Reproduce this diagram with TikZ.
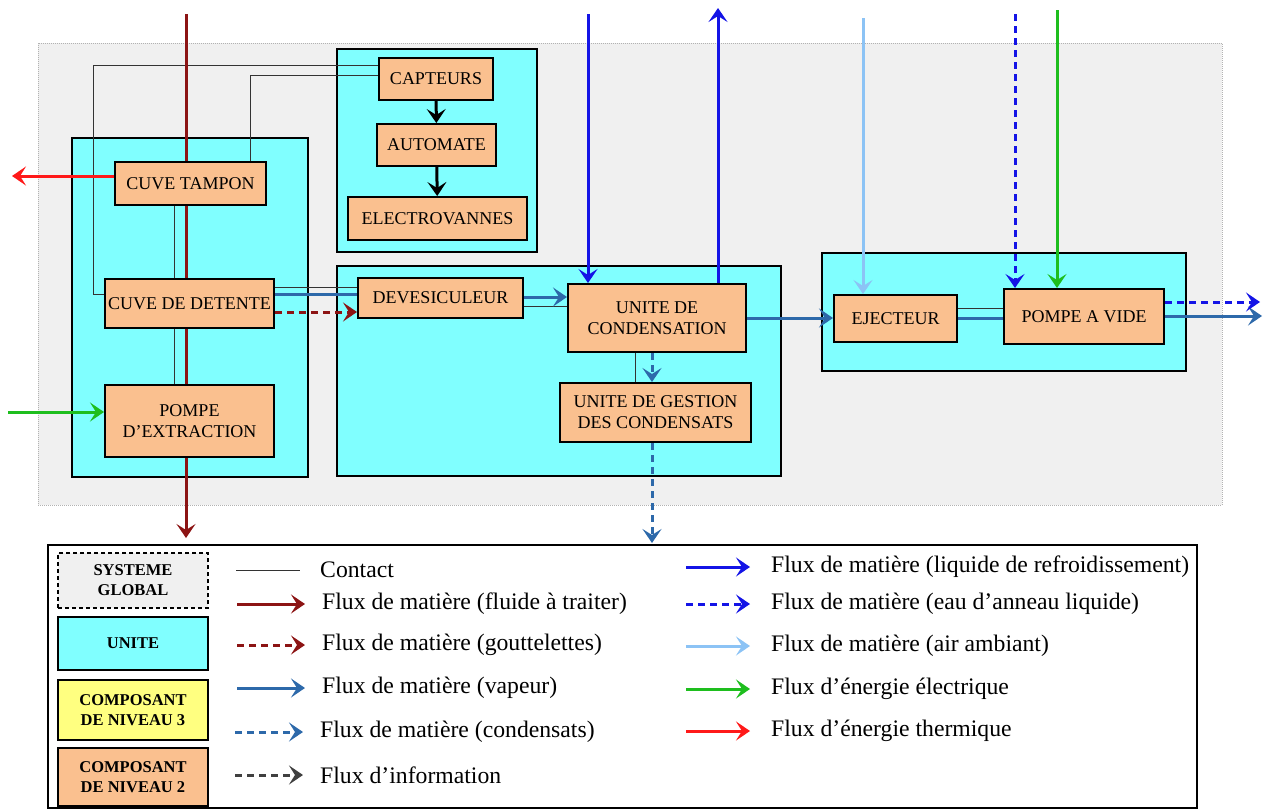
\documentclass[tikz,border=0pt]{standalone}
\usepackage{fontspec}
\setmainfont{Liberation Serif}
\usetikzlibrary{arrows.meta}
\definecolor{unitcyan}{RGB}{128,255,255}
\definecolor{comporange}{RGB}{250,192,143}
\definecolor{compyellow}{RGB}{255,255,128}
\definecolor{globgray}{RGB}{240,240,240}
\definecolor{fluidred}{RGB}{140,20,20}
\definecolor{thermred}{RGB}{255,25,25}
\definecolor{elecgreen}{RGB}{30,190,30}
\definecolor{coolblue}{RGB}{20,20,230}
\definecolor{vapblue}{RGB}{45,105,170}
\definecolor{airblue}{RGB}{140,195,245}
\definecolor{infogray}{RGB}{64,64,64}
\begin{document}
\begin{tikzpicture}[x=1pt,y=-1pt,>={Stealth[length=14pt,width=19pt,inset=6pt]},
  every node/.style={font=\fontsize{18}{21}\selectfont},
  sysbox/.style={draw=gray!60,dash pattern=on 1pt off 1pt,line width=1pt,fill=globgray},
  unitbox/.style={draw,line width=2pt,fill=unitcyan},
  compbox/.style={draw,line width=2pt,fill=comporange,align=center,inner sep=0pt},
  contact/.style={draw=black!80,line width=1pt},
  flow/.style={line width=3pt},
  fluide/.style={flow,fluidred},
  goutte/.style={flow,fluidred,dash pattern=on 7pt off 5pt},
  vapeur/.style={flow,vapblue},
  condens/.style={flow,vapblue,dash pattern=on 7pt off 5pt},
  infoflux/.style={flow,infogray,dash pattern=on 7pt off 5pt},
  refroid/.style={flow,coolblue},
  anneau/.style={flow,coolblue,dash pattern=on 7pt off 5pt},
  airflux/.style={flow,airblue},
  elec/.style={flow,elecgreen},
  thermique/.style={flow,thermred},
  legtext/.style={anchor=west,inner sep=0pt,font=\fontsize{23.7}{26}\selectfont},
  legbox/.style={line width=2pt,align=center,inner sep=0pt,minimum width=150,
    font=\fontsize{16.5}{20}\selectfont\bfseries}]
  \useasboundingbox (0,0) rectangle (1266,809);
  % systeme global et unites
  \node[sysbox,minimum width=1184,minimum height=462] (sys) at (630,274) {};
  \node[unitbox,minimum width=236,minimum height=339] (u1) at (190,307.5) {};
  \node[unitbox,minimum width=200,minimum height=203] (u2) at (437,150.5) {};
  \node[unitbox,minimum width=444,minimum height=210] (u3) at (559,371) {};
  \node[unitbox,minimum width=364,minimum height=118] (u4) at (1004,312) {};
  % composants
  \node[compbox,minimum width=151,minimum height=43] (tampon) at (190.5,183.5) {CUVE TAMPON};
  \node[compbox,minimum width=169,minimum height=49] (detente) at (189.5,303.5) {CUVE DE DETENTE};
  \node[compbox,minimum width=169,minimum height=72] (pompe) at (189.5,421) {POMPE\\D'EXTRACTION};
  \node[compbox,minimum width=114,minimum height=42] (capteurs) at (436,79) {CAPTEURS};
  \node[compbox,minimum width=119,minimum height=42] (automate) at (436.5,145) {AUTOMATE};
  \node[compbox,minimum width=179,minimum height=43] (electro) at (437.5,218.5) {ELECTROVANNES};
  \node[compbox,minimum width=165,minimum height=40] (devesic) at (440.5,298) {DEVESICULEUR};
  \node[compbox,minimum width=178,minimum height=68] (conden) at (657,318) {UNITE DE\\CONDENSATION};
  \node[compbox,minimum width=191,minimum height=59] (gestion) at (655.5,412.5) {UNITE DE GESTION\\DES CONDENSATS};
  \node[compbox,minimum width=123,minimum height=47] (ejecteur) at (895.5,318.5) {EJECTEUR};
  \node[compbox,minimum width=160,minimum height=55] (pompev) at (1084,316.5) {POMPE A VIDE};
  % extremites libres
  \coordinate (fluideIn) at (186,14);
  \coordinate (fluideOut) at (186,538);
  \coordinate (thermOut) at (12,176);
  \coordinate (elecIn) at (8,412);
  \coordinate (refIn) at (588,14);
  \coordinate (refOut) at (718,8);
  \coordinate (condOut) at (652,543);
  \coordinate (airIn) at (863,18);
  \coordinate (anneauIn) at (1015,14);
  \coordinate (elecIn2) at (1057,10);
  \coordinate (vapOut) at (1262,316);
  \coordinate (anneauOut) at (1260,302);
  % contacts
  \draw[contact] (capteurs.west |- 0,65) -| (93,294) -- (detente.west |- 0,294);
  \draw[contact] (capteurs.west |- 0,75) -| (tampon.north -| 250,0);
  \draw[contact] (tampon.south -| 174,0) -- (detente.north -| 174,0);
  \draw[contact] (detente.south -| 174,0) -- (pompe.north -| 174,0);
  \draw[contact] (detente.east |- 0,287) -- (devesic.west |- 0,287);
  \draw[contact] (devesic.east |- 0,306) -- (conden.west |- 0,306);
  \draw[contact] (conden.south -| 635,0) -- (gestion.north -| 635,0);
  \draw[contact] (ejecteur.east |- 0,308) -- (pompev.west |- 0,308);
  % flux
  \draw[fluide] (fluideIn) -- (tampon.north -| fluideIn);
  \draw[fluide] (tampon.south -| fluideIn) -- (detente.north -| fluideIn);
  \draw[fluide] (detente.south -| fluideIn) -- (pompe.north -| fluideIn);
  \draw[fluide,->] (pompe.south -| fluideIn) -- (fluideOut);
  \draw[thermique,->] (tampon.west |- thermOut) -- (thermOut);
  \draw[elec,->] (elecIn) -- (pompe.west |- elecIn);
  \draw[flow,->] (capteurs) -- (automate);
  \draw[flow,->] (automate) -- (electro);
  \draw[vapeur] (detente.east |- 0,294) -- (devesic.west |- 0,294);
  \draw[goutte,->] (detente.east |- 0,312) -- (devesic.west |- 0,312);
  \draw[vapeur,->] (devesic.east |- 0,297) -- (conden.west |- 0,297);
  \draw[refroid,->] (refIn) -- (conden.north -| refIn);
  \draw[refroid,->] (conden.north -| refOut) -- (refOut);
  \draw[condens,->] (conden.south -| condOut) -- (gestion.north -| condOut);
  \draw[condens,->] (gestion.south -| condOut) -- (condOut);
  \draw[vapeur,->] (conden.east |- 0,318) -- (ejecteur.west |- 0,318);
  \draw[airflux,->] (airIn) -- (ejecteur.north -| airIn);
  \draw[vapeur] (ejecteur.east |- 0,318) -- (pompev.west |- 0,318);
  \draw[anneau,->] (anneauIn) -- (pompev.north -| anneauIn);
  \draw[elec,->] (elecIn2) -- (pompev.north -| elecIn2);
  \draw[vapeur,->] (pompev.east |- vapOut) -- (vapOut);
  \draw[anneau,->] (pompev.east |- anneauOut) -- (anneauOut);
  % legende
  \node[draw,line width=2pt,minimum width=1149,minimum height=263] (legend) at (622.5,676.5) {};
  \node[legbox,draw,dash pattern=on 4pt off 3pt,line width=1.5pt,fill=globgray,minimum height=55] (lgSys) at (133,580.5) {SYSTEME\\GLOBAL};
  \node[legbox,draw,fill=unitcyan,minimum height=53] (lgUnit) at (133,643.5) {UNITE};
  \node[legbox,draw,fill=compyellow,minimum height=60] (lgN3) at (133,710) {COMPOSANT\\DE NIVEAU 3};
  \node[legbox,draw,fill=comporange,minimum height=58] (lgN2) at (133,777) {COMPOSANT\\DE NIVEAU 2};
  \node[legtext] (lgContact) at (320,570) {Contact};
  \node[legtext] (lgFluide) at (322,604) {Flux de matière (fluide à traiter)};
  \node[legtext] (lgGoutte) at (322,645) {Flux de matière (gouttelettes)};
  \node[legtext] (lgVapeur) at (322,688) {Flux de matière (vapeur)};
  \node[legtext] (lgCondens) at (320,732) {Flux de matière (condensats)};
  \node[legtext] (lgInfo) at (320,775) {Flux d'information};
  \draw[contact] ([xshift=-84pt]lgContact.west) -- ([xshift=-20pt]lgContact.west);
  \draw[fluide,->] ([xshift=-85pt]lgFluide.west) -- ([xshift=-17pt]lgFluide.west);
  \draw[goutte,->] ([xshift=-85pt]lgGoutte.west) -- ([xshift=-17pt]lgGoutte.west);
  \draw[vapeur,->] ([xshift=-85pt]lgVapeur.west) -- ([xshift=-17pt]lgVapeur.west);
  \draw[condens,->] ([xshift=-85pt]lgCondens.west) -- ([xshift=-17pt]lgCondens.west);
  \draw[infoflux,->] ([xshift=-85pt]lgInfo.west) -- ([xshift=-17pt]lgInfo.west);
  \node[legtext] (lgRefroid) at (771,567) {Flux de matière (liquide de refroidissement)};
  \node[legtext] (lgAnneau) at (771,604) {Flux de matière (eau d'anneau liquide)};
  \node[legtext] (lgAir) at (771,646) {Flux de matière (air ambiant)};
  \node[legtext] (lgElec) at (771,689) {Flux d'énergie électrique};
  \node[legtext] (lgTherm) at (771,731) {Flux d'énergie thermique};
  \draw[refroid,->] ([xshift=-85pt]lgRefroid.west) -- ([xshift=-21pt]lgRefroid.west);
  \draw[anneau,->] ([xshift=-85pt]lgAnneau.west) -- ([xshift=-21pt]lgAnneau.west);
  \draw[airflux,->] ([xshift=-85pt]lgAir.west) -- ([xshift=-21pt]lgAir.west);
  \draw[elec,->] ([xshift=-85pt]lgElec.west) -- ([xshift=-21pt]lgElec.west);
  \draw[thermique,->] ([xshift=-85pt]lgTherm.west) -- ([xshift=-21pt]lgTherm.west);
\end{tikzpicture}
\end{document}
